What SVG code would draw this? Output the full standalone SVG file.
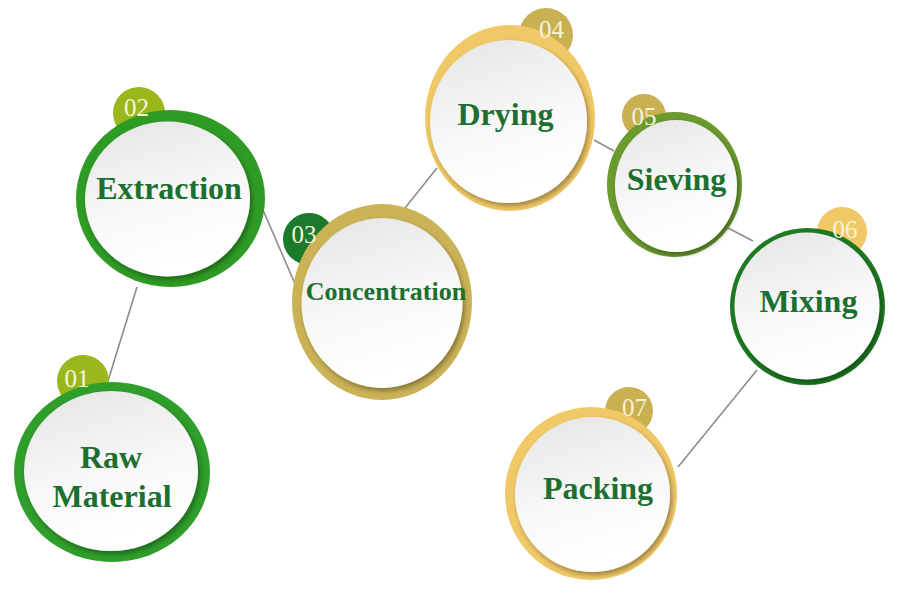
<svg xmlns="http://www.w3.org/2000/svg" width="900" height="597" viewBox="0 0 900 597">
<defs>
<linearGradient id="wg" x1="0" y1="0" x2="0.3" y2="1">
<stop offset="0" stop-color="#e4e4e4"/>
<stop offset="0.6" stop-color="#f8f8f8"/>
<stop offset="1" stop-color="#ffffff"/>
</linearGradient>
<filter id="sh" x="-20%" y="-20%" width="140%" height="140%">
<feDropShadow dx="2" dy="3" stdDeviation="2.5" flood-color="#000" flood-opacity="0.35"/>
</filter>
<path id="tear" d="M 0 1 A 1 1 0 1 1 1 0 L 1 1 Z"/>
</defs>
<style>
.lbl{font-family:"Liberation Serif","Times New Roman",serif;font-weight:bold;font-size:32px;fill:#1b6f30;text-anchor:middle}
.num{font-family:"Liberation Serif","Times New Roman",serif;font-size:25px;fill:#f6f3dc;text-anchor:middle}
.inner{fill:url(#wg);filter:url(#sh)}
.con{stroke:#8c8c8c;stroke-width:1.6;fill:none}
</style>
<rect width="900" height="597" fill="#ffffff"/>
<g id="connectors">
<line class="con" x1="108" y1="381" x2="137" y2="287"/>
<line class="con" x1="263" y1="210" x2="296" y2="286"/>
<line class="con" x1="405" y1="208" x2="437" y2="168"/>
<line class="con" x1="594" y1="140" x2="614" y2="151"/>
<line class="con" x1="728" y1="228" x2="753" y2="241"/>
<line class="con" x1="757" y1="370" x2="678" y2="467"/>
</g>
<g id="node01">
<use href="#tear" transform="translate(83,381) rotate(27) scale(26)" fill="#9ab81c"/>
<ellipse cx="112" cy="472" rx="98" ry="90" fill="#2f9e2a"/>
<ellipse class="inner" cx="111" cy="471" rx="87" ry="80"/>
<text class="num" x="77" y="387">01</text>
<text class="lbl" x="111" y="468">Raw</text>
<text class="lbl" x="112" y="507">Material</text>
</g>
<g id="node02">
<use href="#tear" transform="translate(139,113) rotate(25) scale(26)" fill="#9ab81c"/>
<ellipse cx="170.5" cy="198.5" rx="94.5" ry="88.5" fill="#2e9b24"/>
<ellipse class="inner" cx="167.5" cy="199" rx="82.5" ry="77.5"/>
<text class="num" x="136.5" y="116">02</text>
<text class="lbl" x="169" y="199">Extraction</text>
</g>
<g id="node03">
<use href="#tear" transform="translate(309,239) rotate(-4) scale(26)" fill="#1c7a2c"/>
<ellipse cx="382" cy="302" rx="90" ry="98" fill="#cbb256"/>
<ellipse class="inner" cx="382" cy="303" rx="80.5" ry="85"/>
<text class="num" x="304" y="243">03</text>
<text class="lbl" x="386" y="300" style="font-size:26px">Concentration</text>
</g>
<g id="node04">
<use href="#tear" transform="translate(546,35) rotate(68) scale(27)" fill="#c9b050"/>
<ellipse cx="510" cy="118" rx="85" ry="93" fill="#f0c866"/>
<ellipse class="inner" cx="508.5" cy="121.5" rx="78.5" ry="81.5"/>
<text class="num" x="551.5" y="38">04</text>
<text class="lbl" x="505.5" y="125">Drying</text>
</g>
<g id="node05">
<use href="#tear" transform="translate(644,116) rotate(20) scale(22)" fill="#c9b050"/>
<ellipse cx="674.5" cy="184.5" rx="67.5" ry="72.5" fill="#6b9a2e"/>
<ellipse class="inner" cx="676" cy="186" rx="61" ry="66"/>
<text class="num" x="644" y="125">05</text>
<text class="lbl" x="676.5" y="190">Sieving</text>
</g>
<g id="node06">
<use href="#tear" transform="translate(842,232) rotate(71) scale(25)" fill="#f0c866"/>
<ellipse cx="807.5" cy="306.5" rx="77.5" ry="78.5" fill="#1d7a22"/>
<ellipse class="inner" cx="807" cy="306" rx="72.5" ry="73.5"/>
<text class="num" x="845" y="238">06</text>
<text class="lbl" x="808.5" y="312">Mixing</text>
</g>
<g id="node07">
<use href="#tear" transform="translate(629,411) rotate(70) scale(24)" fill="#c9b050"/>
<ellipse cx="591" cy="493.5" rx="86" ry="86.5" fill="#f0c866"/>
<ellipse class="inner" cx="592.5" cy="494.5" rx="77.5" ry="77.5"/>
<text class="num" x="634.5" y="416">07</text>
<text class="lbl" x="598" y="499">Packing</text>
</g>
</svg>
